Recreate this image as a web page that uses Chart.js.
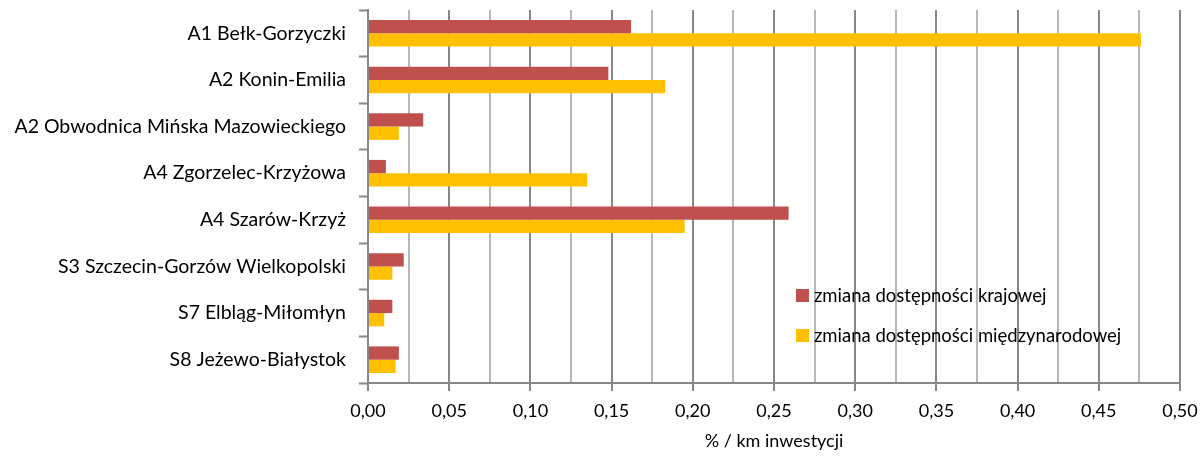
<!DOCTYPE html>
<html>
<head>
<meta charset="utf-8">
<script src="https://cdn.jsdelivr.net/npm/chart.js@4"></script>
<style>
  html, body { margin: 0; padding: 0; background: #fff; }
  #wrap { width: 1202px; height: 457px; }
</style>
</head>
<body>
<div id="wrap"><canvas id="chart"></canvas></div>
<script>
const categories = [
  'A1 Bełk-Gorzyczki',
  'A2 Konin-Emilia',
  'A2 Obwodnica Mińska Mazowieckiego',
  'A4 Zgorzelec-Krzyżowa',
  'A4 Szarów-Krzyż',
  'S3 Szczecin-Gorzów Wielkopolski',
  'S7 Elbląg-Miłomłyn',
  'S8 Jeżewo-Białystok'
];
const krajowa = [0.162, 0.148, 0.034, 0.011, 0.259, 0.022, 0.015, 0.019];
const miedzynarodowa = [0.476, 0.183, 0.019, 0.135, 0.195, 0.015, 0.010, 0.017];
const seriesNames = ['zmiana dostępności krajowej', 'zmiana dostępności międzynarodowej'];
const axisTitle = '% / km inwestycji';

const FONT = 'Lato';
const majorGrid = '#878787';
const minorGrid = '#b7b7b7';

// legend drawn inside the plot, like the original
const innerLegend = {
  id: 'innerLegend',
  afterDatasetsDraw(chart, args, opts) {
    const ctx = chart.ctx;
    ctx.save();
    ctx.font = `${opts.size}px ${FONT}`;
    ctx.textBaseline = 'middle';
    chart.data.datasets.forEach((ds, i) => {
      const y = opts.y + i * opts.gap;
      ctx.fillStyle = ds.backgroundColor;
      ctx.fillRect(opts.x, y - 6, 13, 13);
      ctx.fillStyle = '#000';
      ctx.fillText(ds.label, opts.x + 18, y + 1);
    });
    ctx.restore();
  }
};

new Chart(document.getElementById('chart'), {
  type: 'bar',
  data: {
    labels: categories,
    datasets: [
      { label: seriesNames[0], data: krajowa, backgroundColor: '#C0504D' },
      { label: seriesNames[1], data: miedzynarodowa, backgroundColor: '#FFC000' }
    ]
  },
  options: {
    indexAxis: 'y',
    responsive: true,
    maintainAspectRatio: false,
    animation: false,
    layout: { padding: { left: 0, right: 22, top: 10, bottom: 0 } },
    datasets: { bar: { categoryPercentage: 0.57, barPercentage: 1.0 } },
    plugins: {
      legend: { display: false },
      tooltip: { enabled: false },
      innerLegend: { x: 796, y: 295, gap: 40, size: 18.5 }
    },
    scales: {
      x: {
        min: 0,
        max: 0.5,
        ticks: {
          stepSize: 0.025,
          autoSkip: false,
          maxRotation: 0,
          padding: 9,
          color: '#000',
          font: { family: FONT, size: 18 },
          callback: (value, index) => index % 2 === 0 ? Number(value).toFixed(2).replace('.', ',') : ''
        },
        grid: {
          color: (c) => c.index % 2 === 0 ? majorGrid : minorGrid,
          tickColor: (c) => c.index % 2 === 0 ? majorGrid : 'rgba(0,0,0,0)',
          lineWidth: 2,
          tickLength: 8
        },
        border: { color: majorGrid, width: 2 },
        title: {
          display: true,
          text: axisTitle,
          color: '#000',
          font: { family: FONT, size: 18 },
          padding: { top: 0, bottom: 5 }
        },
        afterFit: (scale) => {
          scale.height = 74;
          scale.paddingLeft = 0;
          scale.paddingRight = 0;
        }
      },
      y: {
        ticks: {
          padding: 13,
          color: '#000',
          font: { family: FONT, size: 19.5 }
        },
        grid: {
          drawOnChartArea: false,
          offset: true,
          tickLength: 9,
          tickColor: majorGrid,
          tickWidth: 2
        },
        border: { color: majorGrid, width: 2 },
        afterFit: (scale) => {
          scale.width = 368;
          scale.paddingTop = 0;
          scale.paddingBottom = 0;
        }
      }
    }
  },
  plugins: [innerLegend]
});
</script>
</body>
</html>
